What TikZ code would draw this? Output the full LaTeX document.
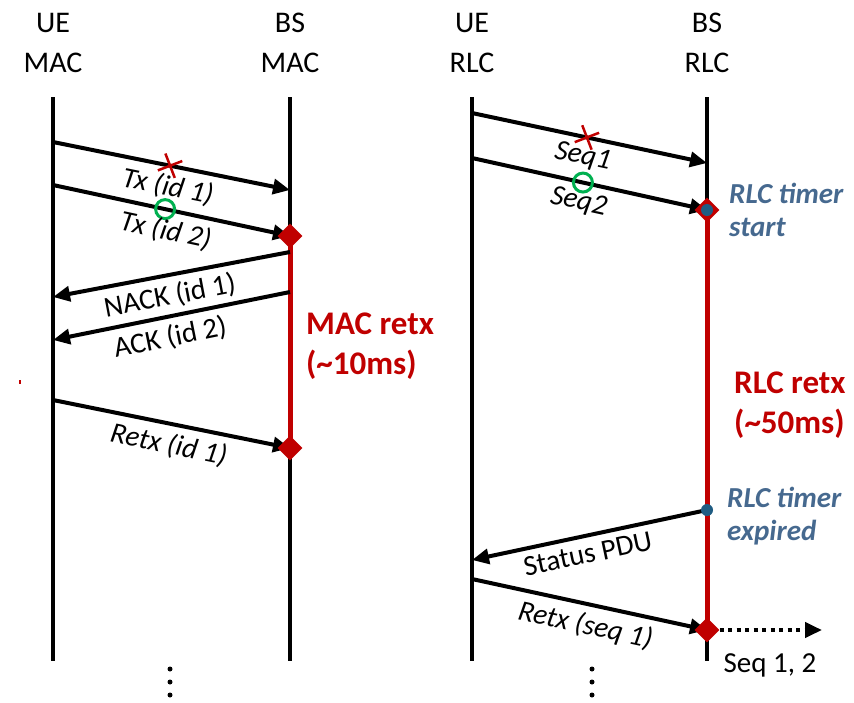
\documentclass[tikz,border=0pt]{standalone}
\usepackage{fontspec}
\setmainfont{Carlito}
\usetikzlibrary{arrows.meta, shapes.geometric, shapes.misc, positioning, calc}
\definecolor{retxred}{HTML}{C00000}
\definecolor{okgreen}{HTML}{00B050}
\definecolor{timerblue}{HTML}{46698F}
\definecolor{dotblue}{HTML}{1F5C82}

\begin{document}
\begin{tikzpicture}[
    x=1pt, y=-1pt,
    head/.style={align=center, anchor=north, inner sep=0pt, font=\fontsize{30}{40}\selectfont},
    life/.style={line width=4pt},
    msg/.style={line width=4pt, -{Triangle[length=17pt, width=15pt]}},
    lbl/.style={sloped, below, inner sep=6.5pt, font=\fontsize{29}{30}\selectfont},
    ilbl/.style={lbl, font=\fontsize{29}{30}\selectfont\itshape},
    window/.style={retxred, line width=5pt},
    evt/.style={diamond, fill=retxred, minimum size=25pt, inner sep=0pt},
    lost/.style={cross out, draw=retxred, line width=2.5pt, minimum size=16pt, inner sep=0pt, rotate=-24},
    okay/.style={circle, draw=okgreen, line width=3pt, minimum size=19pt, inner sep=0pt},
    tdot/.style={circle, fill=dotblue, minimum size=12pt, inner sep=0pt},
    retx/.style={align=left, anchor=north west, inner sep=0pt, text=retxred, font=\fontsize{33}{40}\selectfont\bfseries},
    timer/.style={align=left, anchor=north west, inner sep=0pt, text=timerblue, font=\fontsize{29}{33}\selectfont\bfseries\itshape},
    fwd/.style={line width=4pt, dash pattern=on 4pt off 4.5pt, -{Triangle[length=17pt, width=15pt]}},
    vdot/.style={circle, fill=black, minimum size=5pt, inner sep=0pt}
]
\useasboundingbox (0,0) rectangle (854,702);

% entities
\node[head] (uemac) at (53,13) {UE\\MAC};
\node[head] (bsmac) at (290,13) {BS\\MAC};
\node[head] (uerlc) at (472,13) {UE\\RLC};
\node[head] (bsrlc) at (707,13) {BS\\RLC};

\foreach \n/\x in {uemac/53, bsmac/290, uerlc/472, bsrlc/707} {
    \coordinate (\n-top) at (\x,97);
    \coordinate (\n-bot) at (\x,661);
    \draw[life] (\n-top) -- (\n-bot);
}

% MAC side
\coordinate (tx1s) at (53,142);   \coordinate (tx1e) at (290,190);
\coordinate (tx2s) at (53,185);   \coordinate (tx2e) at (290,236);
\coordinate (nacks) at (290,252); \coordinate (nacke) at (53,297);
\coordinate (acks) at (290,292);  \coordinate (acke) at (53,340);
\coordinate (rtx1s) at (53,400);  \coordinate (rtx1e) at (290,448);

\draw[window] (tx2e) -- (rtx1e);
\draw[msg] (tx1s) -- node[pos=.494, lost] (lost1) {} node[pos=.502, ilbl] (tx1) {Tx (id 1)} (tx1e);
\draw[msg] (tx2s) -- node[pos=.473, okay] (ok1) {} node[pos=.494, ilbl] (tx2) {Tx (id 2)} (tx2e);
\draw[msg] (nacks) -- node[pos=.523, lbl] (nack) {NACK (id 1)} (nacke);
\draw[msg] (acks) -- node[pos=.523, lbl] (ack) {ACK (id 2)} (acke);
\draw[msg] (rtx1s) -- node[pos=.506, ilbl] (rtx1) {Retx (id 1)} (rtx1e);
\node[evt] (macfirst) at (tx2e) {};
\node[evt] (macretx) at (rtx1e) {};
\node[retx] (macwin) at (306,313) {MAC retx\\(\textasciitilde10ms)};

% RLC side
\coordinate (seq1s) at (472,113); \coordinate (seq1e) at (707,163);
\coordinate (seq2s) at (472,158); \coordinate (seq2e) at (707,210);
\coordinate (stats) at (707,510); \coordinate (state) at (472,560);
\coordinate (rtx2s) at (472,579); \coordinate (rtx2e) at (707,630);
\coordinate (deliver) at (822,630);

\draw[window] (seq2e) -- (rtx2e);
\draw[msg] (seq1s) -- node[pos=.489, lost] (lost2) {} node[pos=.489, ilbl] (seq1) {Seq1} (seq1e);
\draw[msg] (seq2s) -- node[pos=.472, okay] (ok2) {} node[pos=.472, ilbl] (seq2) {Seq2} (seq2e);
\draw[msg] (stats) -- node[pos=.523, lbl] (status) {Status PDU} (state);
\draw[msg] (rtx2s) -- node[pos=.502, ilbl] (rtx2) {Retx (seq 1)} (rtx2e);
\node[evt] (rlcfirst) at (seq2e) {};
\node[tdot] (tstart) at (seq2e) {};
\node[tdot] (texpire) at (stats) {};
\node[evt] (rlcretx) at (rtx2e) {};
\draw[fwd] (rlcretx.east) -- (deliver);
\node[anchor=base, inner sep=0pt, font=\fontsize{29}{30}\selectfont] (done) at (770,672) {Seq 1, 2};

\node[timer] (tstarttxt) at (729,183) {RLC timer\\start};
\node[timer] (texpiretxt) at (727,487) {RLC timer\\expired};
\node[retx] (rlcwin) at (734,372) {RLC retx\\(\textasciitilde50ms)};

% more rounds follow
\foreach \y in {669,682,695} {
    \node[vdot] (macmore\y) at (170,\y) {};
    \node[vdot] (rlcmore\y) at (592,\y) {};
}

\draw[retxred, line width=1.2pt] (20,380) -- (20,384);
\end{tikzpicture}
\end{document}
